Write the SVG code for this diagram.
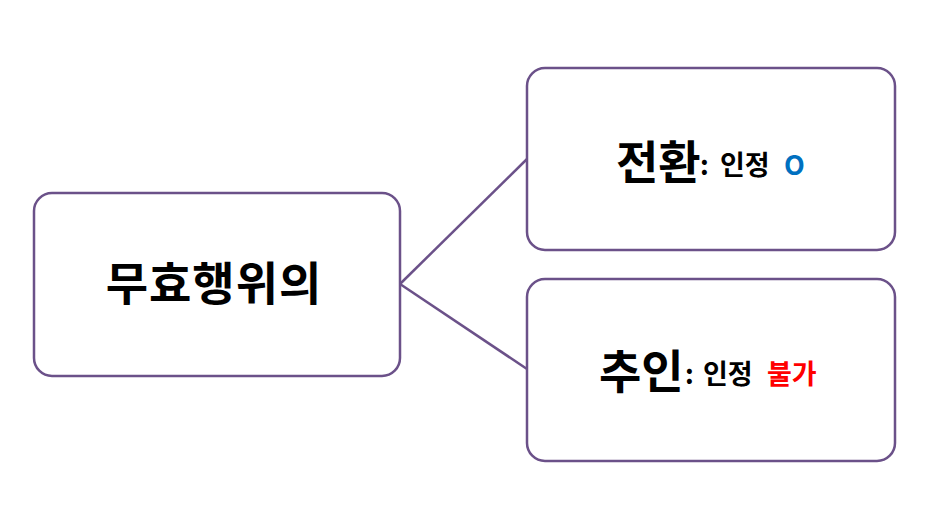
<svg xmlns="http://www.w3.org/2000/svg" width="928" height="532" viewBox="0 0 928 532">
<style>
.box{fill:#fff;stroke:#6b5189;stroke-width:2.5}
.con{stroke:#6b5189;stroke-width:2.5;fill:none}
text{font-family:"Noto Sans CJK KR","Noto Sans",sans-serif;font-weight:bold;fill:#000}
.big{font-size:46px}
.sm{font-size:27px}
</style>
<rect width="928" height="532" fill="#fff"/>
<g id="connectors">
<line class="con" x1="400" y1="284" x2="527" y2="159"/>
<line class="con" x1="400" y1="284" x2="527" y2="369"/>
</g>
<g id="node-main">
<rect class="box" x="34" y="193" width="366" height="183" rx="18"/>
<text class="big" x="214" y="300" text-anchor="middle" letter-spacing="1">무효행위의</text>
</g>
<g id="node-conversion">
<rect class="box" x="527" y="68" width="368" height="182" rx="18"/>
<text x="616" y="179"><tspan class="big">전환</tspan><tspan class="sm" x="700" y="175">:</tspan><tspan class="sm" x="720">인정</tspan><tspan class="sm" x="784" style="fill:#0070c0">O</tspan></text>
</g>
<g id="node-ratification">
<rect class="box" x="527" y="279" width="368" height="182" rx="18"/>
<text x="599" y="388"><tspan class="big">추인</tspan><tspan class="sm" x="685" y="384">:</tspan><tspan class="sm" x="703">인정</tspan><tspan class="sm" x="767" style="fill:#ff0000">불가</tspan></text>
</g>
</svg>
